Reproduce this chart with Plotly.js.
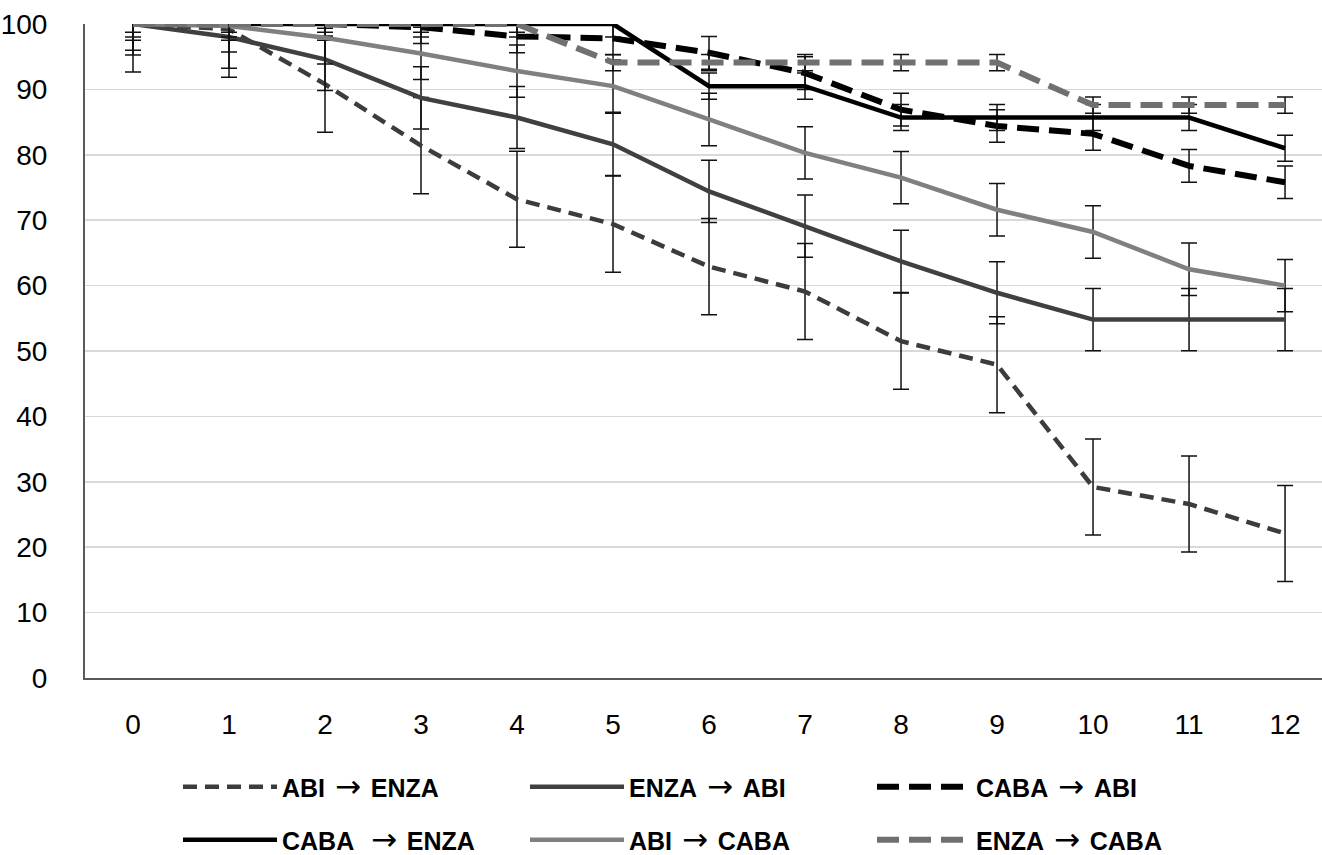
<!DOCTYPE html>
<html>
<head>
<meta charset="utf-8">
<script src="https://cdn.plot.ly/plotly-3.0.1.min.js"></script>
<style>html,body{margin:0;padding:0;background:#fff;}#chart{width:1322px;height:855px;}</style>
</head>
<body>
<div id="chart"></div>
<script>
// Time points (x categories)
const timePoints = [0,1,2,3,4,5,6,7,8,9,10,11,12];
const xTickLabels = ['0','1','2','3','4','5','6','7','8','9','10','11','12'];

// Series values
const abiEnza  = [100, 99.2, 90.8, 81.4, 73.2, 69.4, 62.9, 59.1, 51.5, 47.9, 29.2, 26.6, 22.1];
const enzaAbi  = [100, 98.0, 94.6, 88.7, 85.7, 81.6, 74.4, 69.1, 63.7, 58.9, 54.8, 54.8, 54.8];
const cabaAbi  = [100, 100, 100, 99.5, 98.1, 97.8, 95.6, 92.5, 86.9, 84.4, 83.2, 78.3, 75.8];
const cabaEnza = [100, 100, 100, 100, 100, 100, 90.5, 90.5, 85.7, 85.7, 85.7, 85.7, 81.0];
const abiCaba  = [100, 99.7, 97.9, 95.5, 92.8, 90.5, 85.4, 80.3, 76.5, 71.6, 68.2, 62.5, 60.0];
const enzaCaba = [100, 100, 100, 100, 100, 94.1, 94.1, 94.1, 94.1, 94.1, 87.6, 87.6, 87.6];

// Error bar half-widths (standard error, same for every point of a series)
const errAbiEnza  = 7.35;
const errEnzaAbi  = 4.75;
const errCabaAbi  = 2.5;
const errCabaEnza = 2.0;
const errAbiCaba  = 4.0;
const errEnzaCaba = 1.25;

// Series names
const ARROW = '<span style="font-family:DejaVu Sans;font-weight:normal;font-size:31px"> \u2192 </span>';
const names = ['ABI' + ARROW + 'ENZA', 'ENZA' + ARROW + 'ABI', 'CABA' + ARROW + 'ABI',
               'CABA\u00a0' + ARROW + 'ENZA', 'ABI' + ARROW + 'CABA', 'ENZA' + ARROW + 'CABA'];

function err(v){
  return {type:'constant', value:v, visible:true, color:'#111111', thickness:1.5, width:8};
}
function tr(y, name, color, width, dash, e, legend){
  return {
    x: timePoints, y: y, name: name, type:'scatter', mode:'lines',
    line:{color:color, width:width, dash:dash},
    error_y: err(e), legend: legend, cliponaxis:true
  };
}

const data = [
  tr(abiEnza,  names[0], '#3c3c3c', 4.5, '14px,8px',  errAbiEnza,  'legend'),
  tr(enzaAbi,  names[1], '#404040', 4.5, 'solid',     errEnzaAbi,  'legend'),
  tr(cabaAbi,  names[2], '#000000', 6,   '22px,10px', errCabaAbi,  'legend'),
  tr(cabaEnza, names[3], '#000000', 4.5, 'solid',     errCabaEnza, 'legend2'),
  tr(abiCaba,  names[4], '#808080', 4.5, 'solid',     errAbiCaba,  'legend2'),
  tr(enzaCaba, names[5], '#707070', 6,   '22px,10px', errEnzaCaba, 'legend2')
];

const legendFont = {family:'Liberation Sans, Arial, sans-serif', size:25, color:'#000', weight:'bold'};
const legendCommon = {
  orientation:'h', xref:'container', yref:'container', xanchor:'left', yanchor:'middle',
  font: legendFont, itemwidth: 94, entrywidth: 238, entrywidthmode:'pixels',
  bgcolor:'rgba(0,0,0,0)', borderwidth:0, traceorder:'normal', itemclick:false
};

const layout = {
  width:1322, height:855,
  margin:{l:85, r:0, t:24, b:177},
  paper_bgcolor:'#ffffff', plot_bgcolor:'#ffffff',
  font:{family:'Liberation Sans, Arial, sans-serif', color:'#000'},
  showlegend:true,
  xaxis:{
    type:'linear', range:[-0.5, 12.385], tickvals: timePoints, ticktext: xTickLabels,
    showgrid:false, zeroline:false, showline:true, linecolor:'#595959', linewidth:2,
    ticks:'', ticklabelstandoff:20, tickfont:{size:28, color:'#000'}
  },
  yaxis:{
    range:[0,100], dtick:10, tick0:0, showgrid:true, gridcolor:'#d9d9d9', gridwidth:1.5,
    zeroline:false, showline:true, linecolor:'#595959', linewidth:2,
    ticks:'', ticklabelstandoff:30, tickfont:{size:28, color:'#000'}
  },
  legend: Object.assign({}, legendCommon, {x:178/1322, y:1-787/855}),
  legend2: Object.assign({}, legendCommon, {x:178/1322, y:1-840/855})
};

Plotly.newPlot('chart', data, layout, {displayModeBar:false, staticPlot:true});
</script>
</body>
</html>
